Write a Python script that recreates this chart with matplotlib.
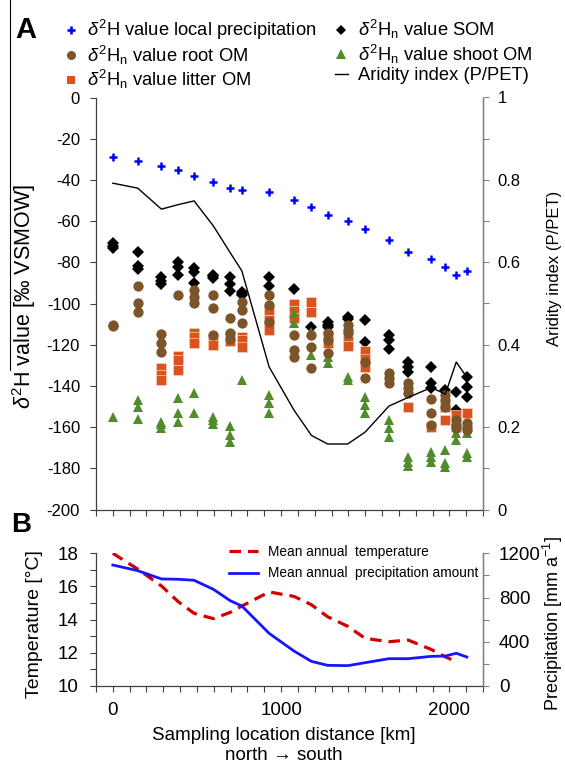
import numpy as np
import matplotlib
matplotlib.use("Agg")
import matplotlib.pyplot as plt
from matplotlib.lines import Line2D
from matplotlib.ticker import MultipleLocator, FuncFormatter

plt.rcParams['font.family'] = ['Liberation Sans', 'DejaVu Sans']
plt.rcParams['mathtext.fontset'] = 'custom'
plt.rcParams['mathtext.rm'] = 'Liberation Sans'
plt.rcParams['mathtext.it'] = 'Liberation Sans:italic'
plt.rcParams['mathtext.bf'] = 'Liberation Sans:bold'
plt.rcParams['axes.unicode_minus'] = False

# sampling sites along the transect [km]
sites_km = [0, 148, 289, 389, 483, 598, 698, 767, 929, 1077,
            1180, 1276, 1396, 1500, 1641, 1755, 1893, 1976, 2041, 2104]

# d2H of local precipitation [per mil]
precip_d2h = [-29.0, -31.0, -33.1, -35.0, -38.1, -40.9, -43.9, -44.9, -45.9, -49.9,
              -53.2, -57.2, -59.9, -64.0, -69.2, -75.1, -78.3, -82.4, -86.0, -84.1]

# aridity index P/PET
aridity = [0.792, 0.780, 0.729, 0.740, 0.749, 0.688, 0.623, 0.579, 0.346, 0.241,
           0.180, 0.159, 0.159, 0.188, 0.251, 0.272, 0.296, 0.280, 0.358, 0.321]

# d2Hn replicates per site
som_d2h = [[-70.5, -72.1, -73.2], [-74.8, -81.8, -83.4], [-87.3, -88.9, -90.5],
           [-79.7, -82.5, -86.2], [-82.9, -84.6, -89.9], [-86.0, -86.8, -87.6],
           [-87.3, -90.5, -93.8], [-94.3, -95.4, -96.0], [-87.0, -91.4], [-93.0],
           [-111.5], [-108.8, -110.4, -111.5], [-106.4, -107.5], [-108.0, -118.5],
           [-115.3, -117.7, -122.2], [-128.2, -130.7, -133.1], [-130.7, -138.7, -141.2],
           [-142.0], [-142.8, -151.7], [-135.8, -140.7, -145.2]]

root_d2h = [[-110.4, -111.0], [-91.4, -99.9, -104.3], [-115.0, -119.0, -123.4],
            [-95.9], [-93.4, -96.7, -99.9], [-95.9, -102.3, -115.3],
            [-107.0, -114.2, -117.4], [-99.1, -103.2, -109.3], [-95.9, -100.7, -108.8],
            [-115.3, -122.6, -126.1], [-115.3, -121.0, -131.5], [-114.5, -117.7, -124.2],
            [-110.4, -112.9, -114.5], [-128.2, -136.3], [-133.9, -136.3, -138.7],
            [-138.7, -141.2, -143.6], [-146.4, -153.3, -159.0], [-144.4, -146.8, -150.1],
            [-156.6, -159.0, -160.6], [-158.2, -159.8, -161.4]]

litter_d2h = [[], [], [-131.5, -134.5, -137.0], [-125.5, -127.5, -132.3],
              [-114.2, -116.5, -119.0], [-117.0, -120.0], [-116.0, -118.0],
              [-116.1, -117.7, -121.0], [-103.0, -108.0, -113.0], [-100.0, -103.5, -107.0],
              [-99.1, -104.0], [-116.0, -119.0], [-118.0, -120.5], [-123.0, -127.0, -130.7],
              [], [-150.1], [-159.8], [-150.1, -156.6], [-154.1, -159.8], [-153.3]]

shoot_d2h = [[-154.9], [-146.8, -150.1, -156.2], [-157.4, -158.5, -160.3],
             [-146.0, -153.3, -157.4], [-143.3, -153.3], [-155.0, -156.6, -158.5],
             [-159.5, -163.8, -167.1], [-137.1], [-144.4, -148.4, -153.3], [-104.5, -109.6],
             [-113.7, -125.0], [-126.0, -129.0], [-135.5, -137.1], [-145.2, -149.3, -153.3],
             [-156.6, -160.6, -164.7], [-174.4, -176.8, -178.7], [-171.9, -174.4, -176.8],
             [-171.1, -177.6, -179.2], [-163.0, -166.3], [-163.0, -172.7, -174.4]]

# climate along the transect
temperature = [18.0, 17.05, 16.03, 15.08, 14.38, 14.06, 14.44, 14.82, 15.67, 15.4,
               14.9, 14.18, 13.6, 12.87, 12.67, 12.77, 12.2, 11.76, 11.46, np.nan]
precip_amount = [1094, 1043, 968, 965, 956, 874, 771, 723, 476, 316,
                 223, 187, 184, 211, 247, 247, 268, 271, 296, 262]

C_ROOT = '#7c5429'
C_LITTER = '#d9541e'
C_SHOOT = '#4f8c2b'
SPINE = '#404040'
SPINE_R = '#808080'


def flatten(groups):
    xs, ys = [], []
    for x, vals in zip(sites_km, groups):
        xs += [x] * len(vals)
        ys += vals
    return xs, ys


def style_axis(ax, right=False):
    ax.spines['top'].set_visible(False)
    for s in ('left', 'bottom', 'right'):
        ax.spines[s].set_color(SPINE_R if (right and s == 'right') else SPINE)
        ax.spines[s].set_linewidth(0.9)
    ax.tick_params(which='both', direction='out', length=4.5, width=0.8,
                   color=SPINE_R if right else SPINE)


fig = plt.figure(figsize=(5.65, 7.63), dpi=100)

# ---------- panel A ----------
axA = fig.add_axes([96 / 565, 1 - 509.5 / 763, 387 / 565, 412 / 763])
axA2 = axA.twinx()

x, y = flatten(som_d2h)
axA.plot(x, y, 'D', color='black', ms=5.8, mew=0, zorder=3)
x, y = flatten(litter_d2h)
axA.plot(x, y, 's', color=C_LITTER, ms=7.4, mec='#f6d2c0', mew=0.5, zorder=4)
x, y = flatten(shoot_d2h)
axA.plot(x, y, '^', color=C_SHOOT, ms=7.6, mew=0, zorder=5)
x, y = flatten(root_d2h)
axA.plot(x, y, 'o', color=C_ROOT, ms=7.4, mew=0, zorder=6)
axA.plot(sites_km, precip_d2h, '+', color='#0000ff', ms=5.5, mew=1.8, zorder=7)

axA2.plot(sites_km, aridity, color='black', lw=1.0, zorder=2)

axA.set_xlim(-100, 2200)
axA.set_ylim(-200, 0)
axA2.set_ylim(0, 1)
axA.yaxis.set_major_locator(MultipleLocator(20))
axA.xaxis.set_major_locator(MultipleLocator(1000))
axA.xaxis.set_minor_locator(MultipleLocator(100))
axA.tick_params(axis='x', labelbottom=False)
axA.tick_params(axis='y', labelsize=12, pad=7)
axA2.yaxis.set_major_locator(MultipleLocator(0.2))
axA2.yaxis.set_minor_locator(MultipleLocator(0.1))
axA2.yaxis.set_major_formatter(FuncFormatter(lambda v, _: f'{v:g}'))
axA2.tick_params(axis='y', labelsize=12, pad=6)
style_axis(axA)
style_axis(axA2, right=True)
axA2.spines['left'].set_visible(False)
axA2.spines['bottom'].set_visible(False)

fig.text(24 / 565, 1 - 297 / 763, r'$\delta^2$H value [‰ VSMOW]', rotation=90,
         ha='center', va='center', fontsize=15.5)
fig.text(555 / 565, 1 - 268 / 763, 'Aridity index (P/PET)', rotation=90,
         ha='center', va='center', fontsize=12)

handles = [
    Line2D([], [], ls='none', marker='+', color='#0000ff', ms=6, mew=1.9),
    Line2D([], [], ls='none', marker='o', color=C_ROOT, ms=6.5, mew=0),
    Line2D([], [], ls='none', marker='s', color=C_LITTER, ms=6, mew=0),
    Line2D([], [], ls='none', marker='D', color='black', ms=5, mew=0),
    Line2D([], [], ls='none', marker='^', color=C_SHOOT, ms=7, mew=0),
    Line2D([], [], color='black', lw=1.0),
]
labels = [
    r'$\delta^2$H value local precipitation',
    r'$\delta^2$H$_\mathrm{n}$ value root OM',
    r'$\delta^2$H$_\mathrm{n}$ value litter OM',
    r'$\delta^2$H$_\mathrm{n}$ value SOM',
    r'$\delta^2$H$_\mathrm{n}$ value shoot OM',
    'Aridity index (P/PET)',
]
fig.legend(handles, labels, ncol=2, loc='upper left',
           bbox_to_anchor=(64 / 565, 1 - 18 / 763), frameon=False, fontsize=13.2,
           handlelength=0.75, handletextpad=0.5, columnspacing=1.0,
           labelspacing=0.08, borderpad=0, borderaxespad=0)

fig.text(15 / 565, 1 - 16 / 763, 'A', fontsize=21, fontweight='bold', va='top')

# thin frame line at the left edge
fig.add_artist(Line2D([10 / 565, 10 / 565], [1, 1 - 370 / 763], color='black', lw=0.8))

# ---------- panel B ----------
axB = fig.add_axes([96 / 565, 1 - 686 / 763, 387 / 565, 132.7 / 763])
axB2 = axB.twinx()

lt, = axB.plot(sites_km, temperature, color='#d00000', lw=2.3, ls=(0, (3.6, 2.2)))
lp, = axB2.plot(sites_km, precip_amount, color='#1515ff', lw=2.0)

axB.set_xlim(-100, 2200)
axB.set_ylim(10, 18)
axB2.set_ylim(0, 1200)
axB.xaxis.set_major_locator(MultipleLocator(1000))
axB.xaxis.set_minor_locator(MultipleLocator(100))
axB.yaxis.set_major_locator(MultipleLocator(2))
axB.yaxis.set_minor_locator(MultipleLocator(1))
axB2.yaxis.set_major_locator(MultipleLocator(400))
axB2.yaxis.set_minor_locator(MultipleLocator(200))
axB.tick_params(axis='x', labelsize=13.5, pad=7)
axB.tick_params(axis='y', labelsize=13.5, pad=8)
axB2.tick_params(axis='y', labelsize=13.5, pad=7)
style_axis(axB)
style_axis(axB2, right=True)
axB2.spines['left'].set_visible(False)
axB2.spines['bottom'].set_visible(False)

axB.legend([lt, lp], ['Mean annual  temperature', 'Mean annual  precipitation amount'],
           loc='upper left', bbox_to_anchor=(229 / 565, 1 - 545 / 763),
           bbox_transform=fig.transFigure, frameon=False, fontsize=9.8,
           handlelength=2.1, handletextpad=0.75, labelspacing=0.55,
           borderpad=0, borderaxespad=0)

fig.text(35 / 565, 1 - 624 / 763, 'Temperature [°C]', rotation=90,
         ha='center', va='center', fontsize=14)
fig.text(553 / 565, 1 - 624 / 763, r'Precipitation [mm a$^{-1}$]', rotation=90,
         ha='center', va='center', fontsize=13)
fig.text(284 / 565, 1 - 735 / 763, 'Sampling location distance [km]',
         ha='center', va='center', fontsize=13.5)
fig.text(284 / 565, 1 - 755 / 763, 'north → south',
         ha='center', va='center', fontsize=13.5)

fig.text(11 / 565, 1 - 512 / 763, 'B', fontsize=20, fontweight='bold', va='top')

fig.savefig('out.png', dpi=100)
